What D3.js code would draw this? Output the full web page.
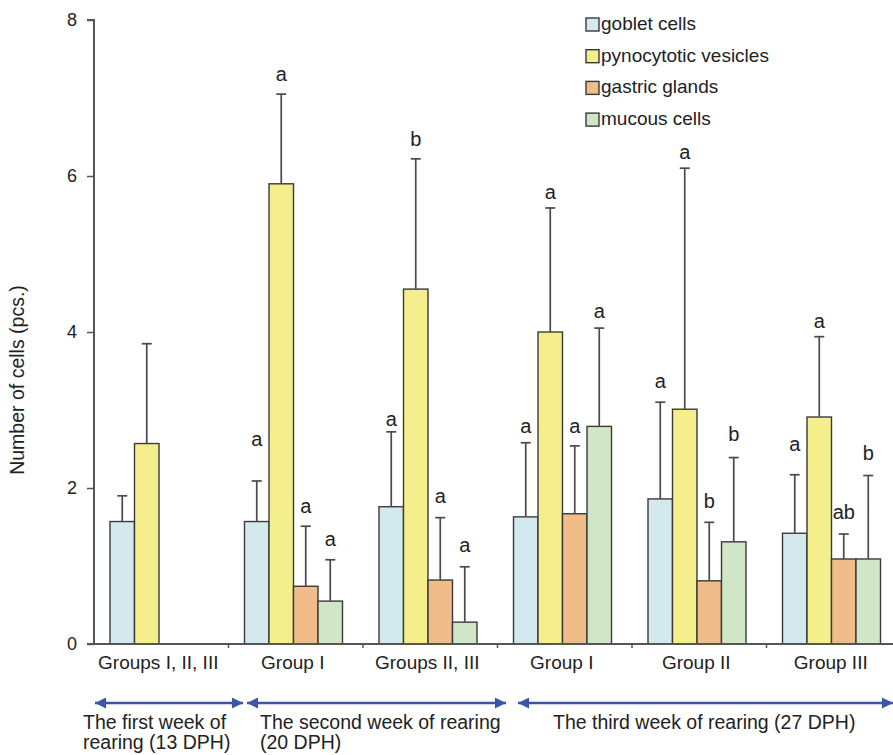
<!DOCTYPE html>
<html>
<head>
<meta charset="utf-8">
<script src="https://cdn.jsdelivr.net/npm/d3@7"></script>
<style>
  html, body { margin: 0; padding: 0; background: #fff; }
  svg { display: block; font-family: "Liberation Sans", Arial, sans-serif; }
</style>
</head>
<body>
<svg id="chart" width="893" height="755"></svg>
<script>
// ---------- data ----------
const groupLabels = ["Groups I, II, III", "Group I", "Groups II, III", "Group I", "Group II", "Group III"];
const seriesNames = ["goblet cells", "pynocytotic vesicles", "gastric glands", "mucous cells"];
const seriesColors = ["#d4e9ed", "#f4ef8c", "#f0bc8a", "#d0e6c6"];

const gobletMean   = [1.57, 1.57, 1.76, 1.63, 1.86, 1.42];
const gobletSD     = [0.33, 0.52, 0.96, 0.95, 1.24, 0.75];
const pynoMean     = [2.57, 5.90, 4.55, 4.00, 3.01, 2.91];
const pynoSD       = [1.28, 1.15, 1.67, 1.59, 3.09, 1.03];
const gastricMean  = [null, 0.74, 0.82, 1.67, 0.81, 1.09];
const gastricSD    = [null, 0.77, 0.80, 0.87, 0.75, 0.32];
const mucousMean   = [null, 0.55, 0.28, 2.79, 1.31, 1.09];
const mucousSD     = [null, 0.53, 0.71, 1.26, 1.08, 1.07];

const gobletSig  = ["", "a", "a", "a", "a", "a"];
const pynoSig    = ["", "a", "b", "a", "a", "a"];
const gastricSig = ["", "a", "a", "a", "b", "ab"];
const mucousSig  = ["", "a", "a", "a", "b", "b"];
// height (in axis units) at which each significance letter sits
const gobletSigAt  = [null, 2.62, 2.87, 2.78, 3.36, 2.55];
const pynoSigAt    = [null, 7.29, 6.46, 5.78, 6.29, 4.13];
const gastricSigAt = [null, 1.76, 1.88, 2.78, 1.82, 1.68];
const mucousSigAt  = [null, 1.33, 1.26, 4.26, 2.68, 2.44];

const yTicks = [0, 2, 4, 6, 8];
const yTitle = "Number of cells (pcs.)";

const periods = [
  { lines: ["The first week of", "rearing (13 DPH)"], from: 0, to: 1 },
  { lines: ["The second week of rearing", "(20 DPH)"], from: 1, to: 3 },
  { lines: ["The third week of rearing (27 DPH)"], from: 3, to: 6 }
];

// ---------- build ----------
const means = [gobletMean, pynoMean, gastricMean, mucousMean];
const sds = [gobletSD, pynoSD, gastricSD, mucousSD];
const sigs = [gobletSig, pynoSig, gastricSig, mucousSig];
const sigAts = [gobletSigAt, pynoSigAt, gastricSigAt, mucousSigAt];

const rows = [];
groupLabels.forEach((g, gi) => {
  seriesNames.forEach((s, si) => {
    const v = means[si][gi];
    if (v == null) return;
    rows.push({ gi, si, v, sd: sds[si][gi], sig: sigs[si][gi], sigAt: sigAts[si][gi] });
  });
});

const svg = d3.select("#chart");
const axisX = 94, plotRight = 901, y0 = 644, yTop = 20;

const y = d3.scaleLinear().domain([0, 8]).range([y0, yTop]);
const x0 = d3.scaleBand().domain(d3.range(groupLabels.length)).range([axisX, plotRight]).padding(0);
const x1 = d3.scaleBand().domain(d3.range(seriesNames.length)).range([16, 114]).padding(0);

const textColor = "#222";
const axisColor = "#555";

// bars
const barG = svg.append("g");
barG.selectAll("rect").data(rows).join("rect")
  .attr("x", d => x0(d.gi) + x1(d.si))
  .attr("y", d => y(d.v))
  .attr("width", x1.bandwidth())
  .attr("height", d => y(0) - y(d.v))
  .attr("fill", d => seriesColors[d.si])
  .attr("stroke", "#3a3a3a")
  .attr("stroke-width", 1.4);

// error bars
const errG = svg.append("g").attr("stroke", "#4a4a4a").attr("stroke-width", 1.7);
rows.forEach(d => {
  const cx = x0(d.gi) + x1(d.si) + x1.bandwidth() / 2;
  errG.append("line").attr("x1", cx).attr("x2", cx).attr("y1", y(d.v)).attr("y2", y(d.v + d.sd));
  errG.append("line").attr("x1", cx - 5).attr("x2", cx + 5).attr("y1", y(d.v + d.sd)).attr("y2", y(d.v + d.sd));
});

// significance letters
svg.append("g").selectAll("text").data(rows.filter(d => d.sig)).join("text")
  .attr("x", d => x0(d.gi) + x1(d.si) + x1.bandwidth() / 2)
  .attr("y", d => y(d.sigAt))
  .attr("dy", "0.3em")
  .attr("text-anchor", "middle")
  .attr("font-size", 20)
  .attr("fill", textColor)
  .text(d => d.sig);

// y axis
const yAxis = d3.axisLeft(y).tickValues(yTicks).tickSize(7).tickPadding(10).tickFormat(d3.format("d"));
const gy = svg.append("g").attr("transform", `translate(${axisX},0)`).call(yAxis);
gy.select(".domain").attr("stroke", axisColor).attr("stroke-width", 2).attr("d", `M-7,${yTop}H0V${y0}`);
gy.selectAll(".tick line").attr("stroke", axisColor).attr("stroke-width", 1.5);
gy.selectAll(".tick text").attr("font-size", 18).attr("fill", textColor).attr("font-family", "Liberation Sans, Arial, sans-serif");

// x axis line with separator ticks
const xLineG = svg.append("g");
xLineG.append("line").attr("x1", axisX - 7).attr("x2", 893).attr("y1", y0).attr("y2", y0)
  .attr("stroke", axisColor).attr("stroke-width", 2);
xLineG.selectAll("line.sep").data(d3.range(1, groupLabels.length)).join("line")
  .attr("class", "sep")
  .attr("x1", i => x0(i)).attr("x2", i => x0(i))
  .attr("y1", y0).attr("y2", y0 + 4)
  .attr("stroke", axisColor).attr("stroke-width", 1.5);

// group labels
svg.append("g").selectAll("text").data(groupLabels).join("text")
  .attr("x", (d, i) => x0(i) + x0.bandwidth() / 2 - 3)
  .attr("y", 669)
  .attr("text-anchor", "middle")
  .attr("font-size", 19)
  .attr("fill", textColor)
  .text(d => d);

// y title
svg.append("text")
  .attr("transform", `translate(24,380) rotate(-90)`)
  .attr("text-anchor", "middle")
  .attr("font-size", 19.5)
  .attr("fill", textColor)
  .text(yTitle);

// period arrows
const arrowColor = "#3a56a8";
const defs = svg.append("defs");
defs.append("marker").attr("id", "ah").attr("viewBox", "0 0 10 10").attr("refX", 10).attr("refY", 5)
  .attr("markerWidth", 5.5).attr("markerHeight", 4.6).attr("markerUnits", "strokeWidth").attr("orient", "auto-start-reverse")
  .append("path").attr("d", "M0,0L10,5L0,10Z").attr("fill", arrowColor);

const arrowY = 703;
const arrowEnds = [[95, 243], [247, 506], [518, 893]];
const textStarts = [83, 260, 553];
periods.forEach((p, i) => {
  svg.append("line")
    .attr("x1", arrowEnds[i][0]).attr("x2", arrowEnds[i][1])
    .attr("y1", arrowY).attr("y2", arrowY)
    .attr("stroke", arrowColor).attr("stroke-width", 2.4)
    .attr("marker-start", "url(#ah)").attr("marker-end", "url(#ah)");
  p.lines.forEach((ln, li) => {
    svg.append("text")
      .attr("x", textStarts[i]).attr("y", 729 + li * 20)
      .attr("font-size", 19.5)
      .attr("fill", textColor)
      .text(ln);
  });
});

// legend
const legend = svg.append("g").attr("transform", "translate(586,18)");
seriesNames.forEach((s, i) => {
  const g = legend.append("g").attr("transform", `translate(0,${i * 31.7})`);
  g.append("rect").attr("x", 0).attr("y", 0).attr("width", 13).attr("height", 13)
    .attr("fill", seriesColors[i]).attr("stroke", "#3a3a3a").attr("stroke-width", 1.4);
  g.append("text").attr("x", 15).attr("y", 12).attr("font-size", 19).attr("fill", textColor).text(s);
});
</script>
</body>
</html>
